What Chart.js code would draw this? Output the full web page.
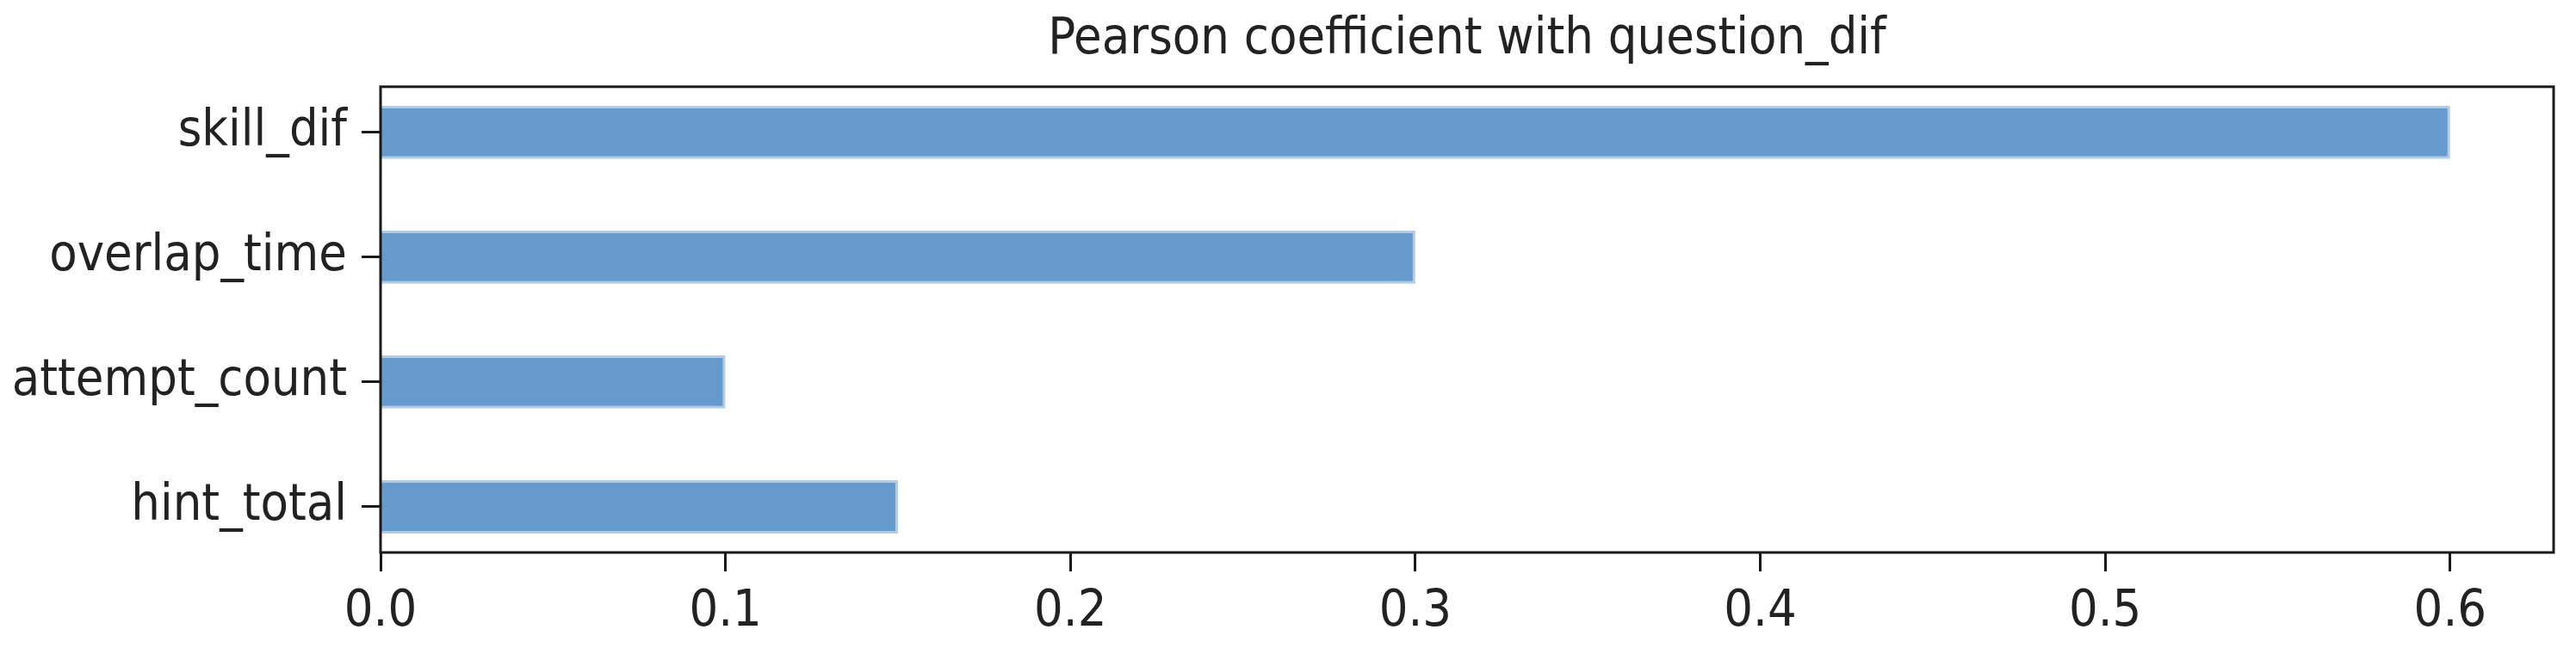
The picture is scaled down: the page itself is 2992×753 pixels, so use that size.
<!DOCTYPE html>
<html>
<head>
<meta charset="utf-8">
<title>Pearson coefficient with question_dif</title>
<script src="https://cdn.jsdelivr.net/npm/chart.js@4.4.1/dist/chart.umd.min.js"></script>
<style>
    html, body { margin: 0; padding: 0; background: #fff; }
    #wrap { width: 2992px; height: 753px; }
</style>
</head>
<body>
<div id="wrap"><canvas id="coefChart"></canvas></div>
<script>
// features, top to bottom as they appear in the plot
const categories = ['skill_dif', 'overlap_time', 'attempt_count', 'hint_total'];
const coefValues = [0.6, 0.3, 0.1, 0.15];
const xTicks = [0.0, 0.1, 0.2, 0.3, 0.4, 0.5, 0.6];
const chartTitle = 'Pearson coefficient with question_dif';

const barColor = 'rgb(102, 153, 204)';
const textColor = '#222';
const fontFamily = "'DejaVu Sans Condensed', 'DejaVu Sans', sans-serif";

// draws the box round the plot area, like matplotlib's spines
const frameBox = {
    id: 'frameBox',
    afterDatasetsDraw(chart) {
        const { ctx, chartArea } = chart;
        ctx.save();
        ctx.strokeStyle = '#1a1a1a';
        ctx.lineWidth = 3;
        ctx.strokeRect(chartArea.left, chartArea.top,
            chartArea.right - chartArea.left, chartArea.bottom - chartArea.top);
        ctx.restore();
    }
};

document.addEventListener('DOMContentLoaded', () => {
    const ctx = document.getElementById('coefChart').getContext('2d');

    const chart = new Chart(ctx, {
        type: 'bar',
        data: {
            datasets: [{
                data: categories.map((c, i) => ({ x: coefValues[i], y: i })),
                backgroundColor: barColor,
                borderColor: 'rgba(102, 153, 204, 0.5)',
                borderWidth: 3,
                borderSkipped: 'start',
                categoryPercentage: 1,
                barPercentage: 0.427
            }]
        },
        options: {
            indexAxis: 'y',
            responsive: true,
            maintainAspectRatio: false,
            animation: false,
            devicePixelRatio: 1,
            layout: { padding: { left: 0, right: 26, top: 0, bottom: 0 } },
            plugins: {
                legend: { display: false },
                tooltip: { enabled: false },
                title: {
                    display: true,
                    text: chartTitle,
                    fullSize: false,
                    color: textColor,
                    font: { family: fontFamily, size: 59, weight: 'normal' },
                    padding: { top: 11, bottom: 19 }
                }
            },
            scales: {
                x: {
                    type: 'linear',
                    min: 0,
                    max: 0.63,
                    border: { display: false },
                    grid: {
                        drawOnChartArea: false,
                        drawTicks: true,
                        tickLength: 22,
                        tickWidth: 3,
                        tickColor: '#1a1a1a'
                    },
                    ticks: {
                        color: textColor,
                        font: { family: fontFamily, size: 59 },
                        padding: 12,
                        maxRotation: 0,
                        callback: v => Number(v).toFixed(1)
                    },
                    afterBuildTicks: scale => {
                        scale.ticks = xTicks.map(v => ({ value: v }));
                    },
                    afterFit: scale => { scale.height = 111; }
                },
                y: {
                    type: 'linear',
                    reverse: true,
                    offset: false,
                    min: -0.366,
                    max: categories.length - 1 + 0.366,
                    border: { display: false },
                    grid: {
                        offset: false,
                        drawOnChartArea: false,
                        drawTicks: true,
                        tickLength: 22,
                        tickWidth: 3,
                        tickColor: '#1a1a1a'
                    },
                    ticks: {
                        color: textColor,
                        font: { family: fontFamily, size: 59 },
                        padding: 17,
                        callback: v => categories[v]
                    },
                    afterBuildTicks: scale => {
                        scale.ticks = categories.map((c, i) => ({ value: i }));
                    },
                    afterFit: scale => { scale.width = 442; }
                }
            }
        },
        plugins: [frameBox]
    });
});
</script>
</body>
</html>
